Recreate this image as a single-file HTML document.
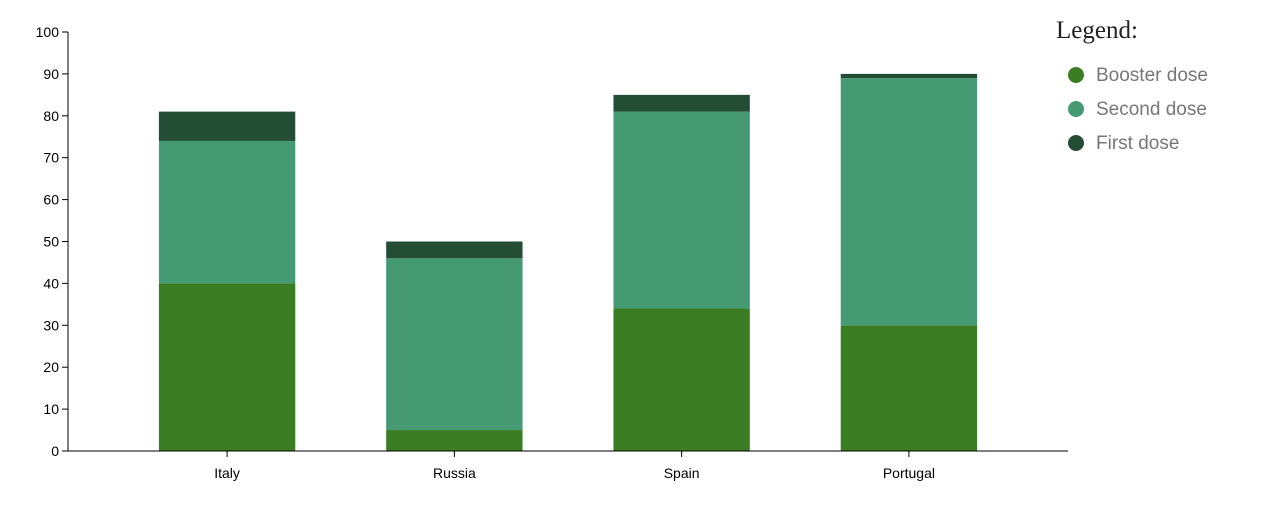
<!DOCTYPE html>
<html><head><meta charset="utf-8"><style>
body{margin:0;background:#fff;width:1272px;height:517px;overflow:hidden}
svg text{font-family:"Liberation Sans",sans-serif}
</style></head><body>
<svg id="chart" width="1272" height="517">
<g id="bars"></g>
<g id="yaxis"></g>
<g id="xaxis"></g>
<g id="legend">
<text x="1056" y="38" font-size="25" fill="#222" style="font-family:'Liberation Serif',serif">Legend:</text>
</g>
</svg>
<script>
const categories=["Italy","Russia","Spain","Portugal"];
const booster=[40,5,34,30];
const second=[34,41,47,59];
const first=[7,4,4,1];
const yTicks=[0,10,20,30,40,50,60,70,80,90,100];
const seriesNames=["Booster dose","Second dose","First dose"];
const colors=["#3a7d22","#459a73","#234d35"];
const NS="http://www.w3.org/2000/svg";
const X0=68,X1=1068,Y0=451,Y1=32;
const y=v=>Y0-(v/100)*(Y0-Y1);
const step=(X1-X0)/(categories.length-0.4+0.8);
const bw=step*0.6;
const x=i=>X0+0.4*step+i*step;
function mk(tag,attrs,parent){const e=document.createElementNS(NS,tag);for(const k in attrs)e.setAttribute(k,attrs[k]);parent.appendChild(e);return e;}
const bars=document.getElementById('bars');
const series=[booster,second,first];
categories.forEach((c,i)=>{let base=0;series.forEach((s,j)=>{const r=mk('rect',{x:x(i),y:y(base+s[i]),width:bw,height:y(base)-y(base+s[i]),fill:colors[j]},bars);


base+=s[i];});});
const ya=document.getElementById('yaxis');
mk('line',{x1:X0,x2:X0,y1:Y1,y2:Y0,stroke:'#000'},ya);
yTicks.forEach(t=>{mk('line',{x1:X0-6,x2:X0,y1:y(t),y2:y(t),stroke:'#000'},ya);
const tx=mk('text',{x:X0-9,y:y(t)+5,'text-anchor':'end','font-size':14,fill:'#000'},ya);tx.textContent=t;

});
const xa=document.getElementById('xaxis');
mk('line',{x1:X0,x2:X1,y1:Y0,y2:Y0,stroke:'#000'},xa);
categories.forEach((c,i)=>{const cx=x(i)+bw/2;mk('line',{x1:cx,x2:cx,y1:Y0,y2:Y0+6,stroke:'#000'},xa);
const tx=mk('text',{x:cx,y:Y0+27,'text-anchor':'middle','font-size':14,fill:'#000'},xa);tx.textContent=c;

});
const lg=document.getElementById('legend');
seriesNames.forEach((n,j)=>{const g=mk('g',{},lg);


mk('circle',{cx:1076,cy:75+34*j,r:8,fill:colors[j]},g);
const t=mk('text',{x:1096,y:81+34*j,'font-size':19,fill:'#777'},g);t.textContent=n;});
</script>
</body></html>
